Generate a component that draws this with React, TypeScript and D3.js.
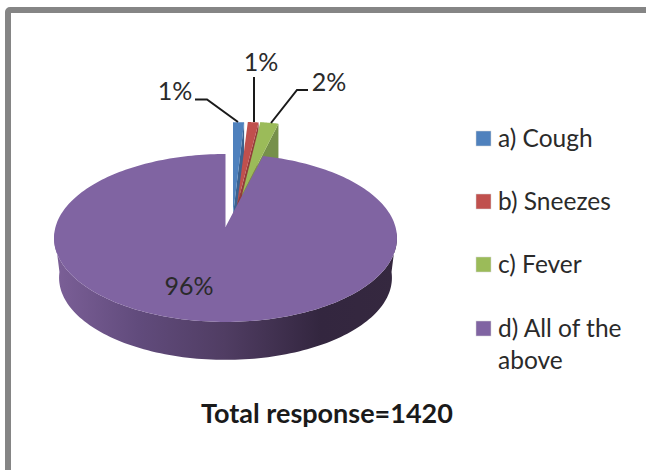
import React from "react";
import * as d3 from "d3";

const categories = ["a) Cough", "b) Sneezes", "c) Fever", "d) All of the above"];
const shares = [1, 1, 2, 96];
const topColors = ["#4f81bd", "#c0504d", "#9bbb59", "#8064a2"];
const wallColors = ["#3c628f", "#923c3a", "#76904a", "#614b7c"];
const sliceLabels = ["1%", "1%", "2%", "96%"];
const chartTitle = "Total response=1420";
const FONT = "Lato, 'Open Sans', sans-serif";

const W = 646;
const H = 470;

// Tilted disc projection: a unit circle under a mild perspective.
const TILT = 0.1308;
const project = (
  angle: number,
  cx: number,
  cy: number,
  bx: number,
  by: number
): [number, number] => {
  const w = 1 + TILT * Math.cos(angle);
  return [cx + (bx * Math.sin(angle)) / w, cy - (by * Math.cos(angle)) / w];
};

const pieLayout = d3.pie<number>().sort(null).value((d) => d);
const arcs = pieLayout(shares);
const line = d3.line<[number, number]>();
const samples = (a0: number, a1: number, n = 90) =>
  d3.range(n + 1).map((i) => a0 + ((a1 - a0) * i) / n);

// The three small slices are pulled out of the disc, each with its own apex and reach.
const smallApex = [
  [233, 215],
  [237, 205],
  [242, 195],
];
const smallSpanX = [200, 195, 165];
const smallSpanY = [105, 94, 83];
const DEPTH = 38;

const disc = arcs[3];
const topOutline = line([
  [225.5, 227],
  ...samples(disc.startAngle, disc.endAngle, 240).map((a) =>
    project(a, 225.5, 227, 170, 82.5)
  ),
])! + "Z";

// Side wall of the disc, between the widest points of the upper and lower rims.
const wallOutline = line([
  ...samples(Math.PI * 0.52, Math.PI * 1.48, 120).map((a) =>
    project(a, 225.5, 227, 170, 82.5)
  ),
  ...samples(Math.PI * 1.48, Math.PI * 0.52, 120).map((a) =>
    project(a, 225.5, 267, 165, 80.7)
  ),
])! + "Z";

const leaders = [
  "M 195 99.5 L 207 99.5 L 238 122",
  "M 254 77 L 254 122",
  "M 308 90 L 297 90 L 271 123",
];

export default function App() {
  return (
    <svg
      width={W}
      height={H}
      viewBox={`0 0 ${W} ${H}`}
      style={{ position: "fixed", left: 0, top: 0, display: "block", background: "#fff" }}
      fontFamily={FONT}
    >
      <defs>
        <linearGradient id="wallShade" gradientUnits="userSpaceOnUse" x1="53" x2="396" y1="0" y2="0">
          <stop offset="0" stopColor="#7c6098" />
          <stop offset="0.25" stopColor="#614b7c" />
          <stop offset="0.5" stopColor="#503d63" />
          <stop offset="0.78" stopColor="#33263f" />
          <stop offset="1" stopColor="#35283f" />
        </linearGradient>
      </defs>

      <rect x={8} y={10} width={W + 20} height={H + 20} rx={2} fill="none" stroke="#858585" strokeWidth={6} />

      <g>
        {arcs.slice(0, 3).map((arc, i) => {
          const [ax, ay] = smallApex[i];
          const rim = samples(arc.startAngle, arc.endAngle, 12).map((a) =>
            project(a, ax, ay, smallSpanX[i], smallSpanY[i])
          );
          const end = rim[rim.length - 1];
          const wall = line([
            [ax, ay],
            end,
            [end[0], end[1] + DEPTH],
            [ax, ay + DEPTH],
          ])! + "Z";
          const top = line([[ax, ay], ...rim])! + "Z";
          return (
            <g key={categories[i]}>
              <path d={wall} fill={wallColors[i]} />
              <path d={top} fill={topColors[i]} />
            </g>
          );
        })}
        <path d={wallOutline} fill="url(#wallShade)" />
        <path d={topOutline} fill={topColors[3]} />
      </g>

      {leaders.map((d) => (
        <path key={d} d={d} fill="none" stroke="#1a1a1a" strokeWidth={2} />
      ))}

      <g fontSize={25} fill="#2a2a2a" textAnchor="middle">
        <text x={175} y={100}>{sliceLabels[0]}</text>
        <text x={261} y={71}>{sliceLabels[1]}</text>
        <text x={329} y={91}>{sliceLabels[2]}</text>
        <text x={189} y={295}>{sliceLabels[3]}</text>
      </g>

      <g fontSize={24.5} fill="#2a2a2a">
        {[138, 201, 264, 328].map((y, i) => (
          <g key={categories[i]}>
            <rect x={476} y={y - 7} width={15} height={15} fill={topColors[i]} stroke="#d8d8d8" strokeWidth={0.5} />
            {i < 3 ? (
              <text x={498} y={y + 8.5}>{categories[i]}</text>
            ) : (
              <>
                <text x={498} y={y + 8.5}>d) All of the</text>
                <text x={498} y={y + 40.5}>above</text>
              </>
            )}
          </g>
        ))}
      </g>

      <text x={327} y={423} fontSize={27} fontWeight={700} fill="#1a1a1a" textAnchor="middle">
        {chartTitle}
      </text>
    </svg>
  );
}
